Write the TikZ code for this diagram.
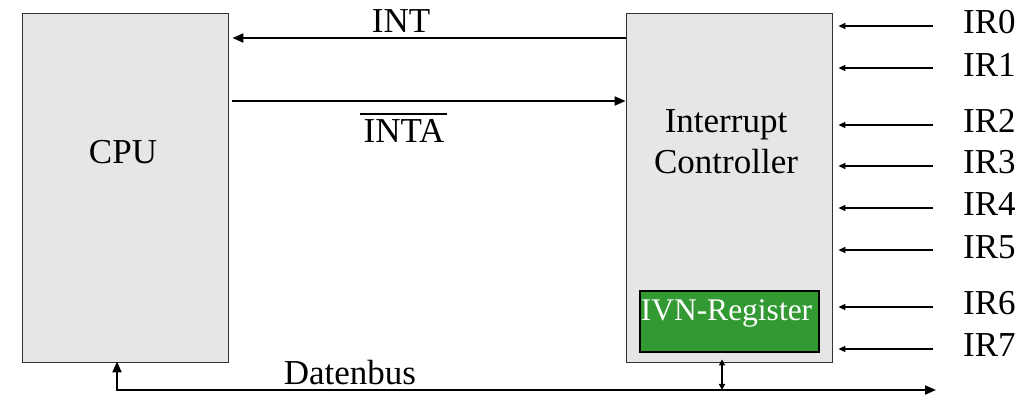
\documentclass[tikz,border=0pt]{standalone}
\usepackage{fontspec}
\setmainfont{Liberation Serif}
\usetikzlibrary{arrows.meta}
\definecolor{boxgray}{HTML}{E6E6E6}
\definecolor{regGreen}{HTML}{339933}
\begin{document}
\begin{tikzpicture}[x=1pt,y=-1pt,
  blockbox/.style={draw=black!80,line width=0.8pt,fill=boxgray,minimum width=206pt,minimum height=349pt,inner sep=0pt},
  regbox/.style={draw=black,line width=2pt,fill=regGreen,minimum width=179pt,minimum height=61pt,inner sep=0pt,text=white},
  regtext/.style={inner sep=0pt,text=white,font=\fontsize{31.5}{36}\selectfont},
  lbl/.style={inner sep=0pt,font=\fontsize{35}{41}\selectfont},
  thick arr/.style={line width=2pt,-{Triangle[length=11pt,width=9pt]}},
  thin arr/.style={line width=1.5pt,-{Triangle[length=7pt,width=6pt]}},
  dbl arr/.style={line width=1.5pt,{Triangle[length=6pt,width=6pt]}-{Triangle[length=6pt,width=6pt]}}
]
\useasboundingbox (0,0) rectangle (1034,403);
\node[blockbox] (cpu) at (125,187.5) {};
\node[blockbox] (ic) at (729,187.5) {};
\node[regbox] (ivn) at (729.5,321.5) {};
\node[regtext] (ivntxt) at (726.5,313) {IVN-Register};
\node[lbl] (cputxt) at (123,152) {CPU};
\node[lbl,align=center] (ictxt) at (726,142) {Interrupt\\Controller};

% INT / INTA
\draw[thick arr] (ic.west |- 0,38) -- ([xshift=4pt]cpu.east |- 0,38);
\draw[thick arr] ([xshift=4pt]cpu.east |- 0,101) -- (ic.west |- 0,101);
\node[lbl] (intlbl) at (401,21) {INT};
\node[lbl] (intalbl) at (404,131) {INTA};
\draw[line width=2pt] ([xshift=-3pt]intalbl.west |- 0,114) -- ([xshift=2pt]intalbl.east |- 0,114);

% IR inputs
\foreach \i/\y/\ty in {0/26/22,1/68/65,2/125/121,3/166/162,4/208/204,5/250/247,6/307/303,7/349/345}{
  \coordinate (irsrc\i) at (933,\y);
  \node[lbl,anchor=west] (irlbl\i) at (963,\ty) {IR\i};
  \draw[thin arr] (irsrc\i) -- ([xshift=6pt]ic.east |- irsrc\i);
}

% Datenbus
\coordinate (busL) at (117,390);
\coordinate (busR) at (936,390);
\draw[thick arr] (busL) -- ([yshift=1pt]cpu.south -| busL);
\draw[thick arr] ([xshift=-1pt]busL) -- (busR);
\coordinate (icbus) at (722,390);
\draw[dbl arr] (icbus) -- ([yshift=3pt]ic.south -| icbus);
\node[lbl] (buslbl) at (350,373) {Datenbus};
\end{tikzpicture}
\end{document}
